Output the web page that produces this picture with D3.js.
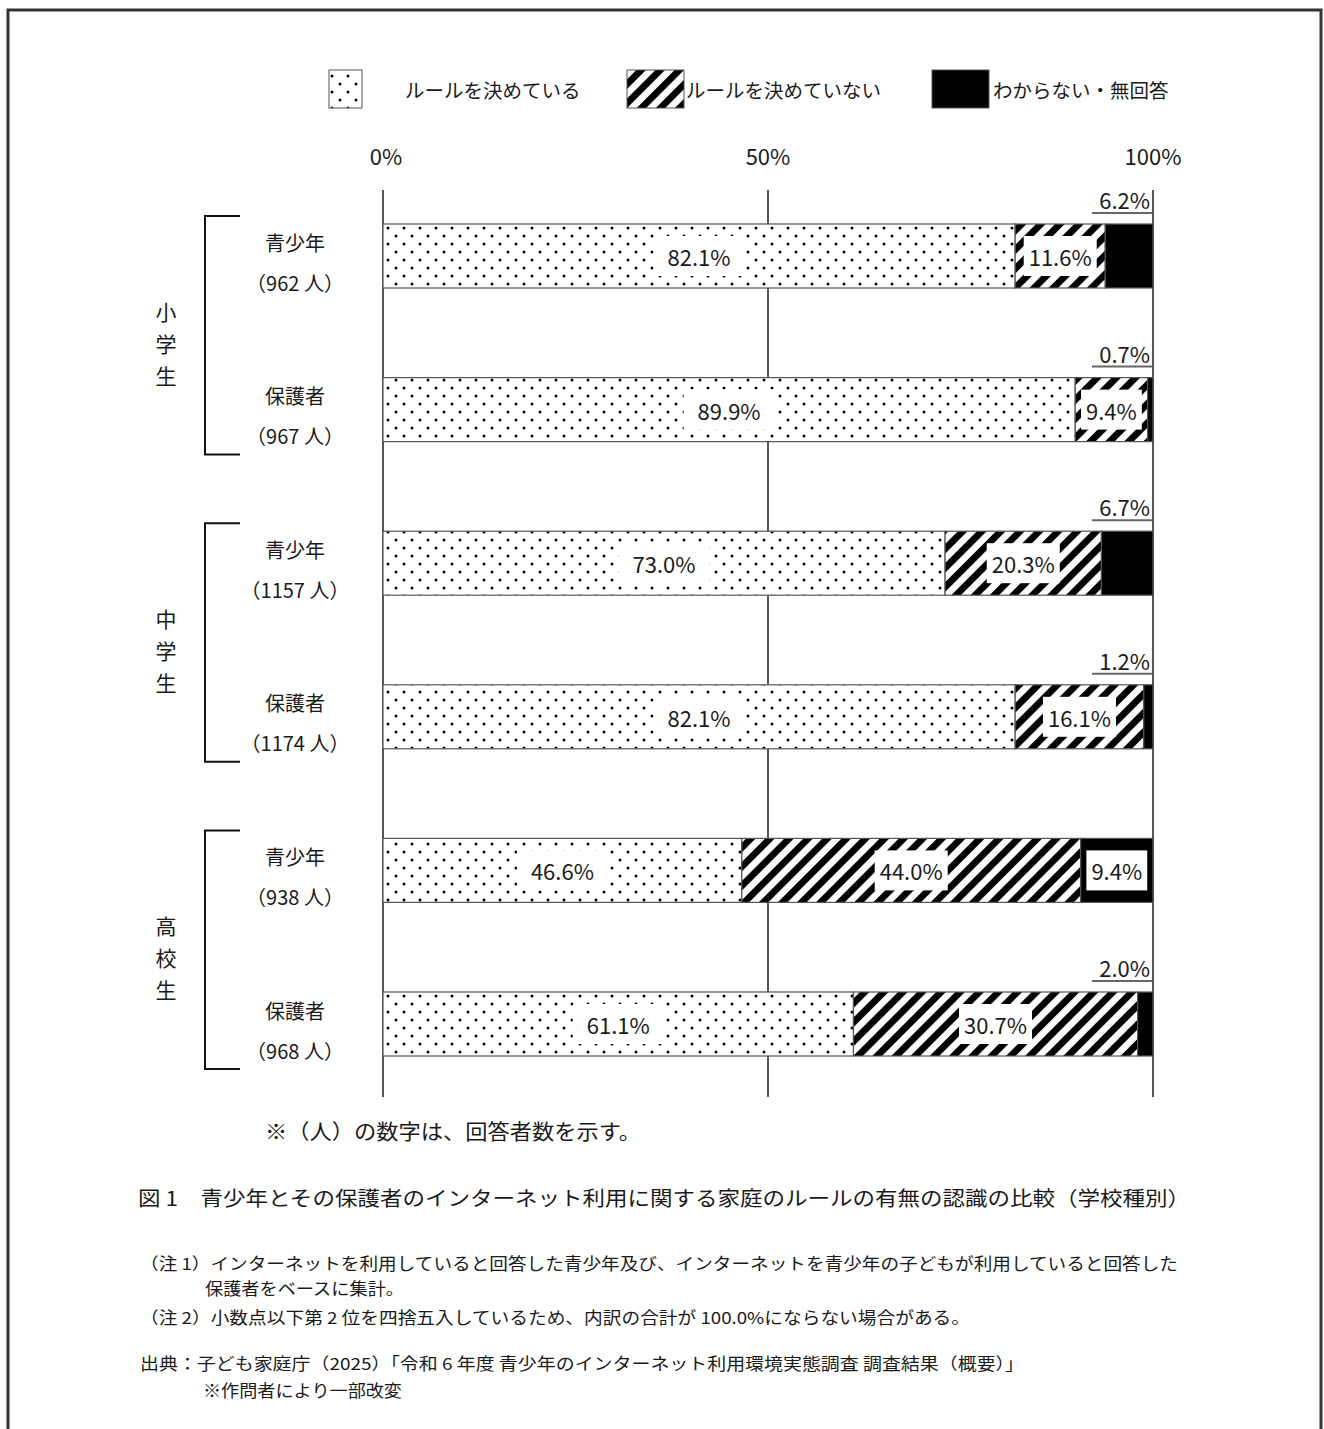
<!DOCTYPE html>
<html><head><meta charset="utf-8">
<script src="https://cdn.jsdelivr.net/npm/d3@7"></script>
<style>
html,body{margin:0;padding:0;background:#fff;}
text{font-family:"Noto Sans CJK JP","Noto Sans",sans-serif;fill:#1a1a1a;}
</style></head>
<body>
<svg id="chart" width="1324" height="1429"></svg>
<script>
// ---- data ----
const groups = ["小学生", "中学生", "高校生"];
const respondents = ["青少年", "保護者"];
const counts = [962, 967, 1157, 1174, 938, 968];
const ruleYes = [82.1, 89.9, 73.0, 82.1, 46.6, 61.1];
const ruleNo = [11.6, 9.4, 20.3, 16.1, 44.0, 30.7];
const unknown = [6.2, 0.7, 6.7, 1.2, 9.4, 2.0];
const tickValues = [0, 50, 100];
const legendLabels = ["ルールを決めている", "ルールを決めていない", "わからない・無回答"];
const footnote = "※（人）の数字は、回答者数を示す。";
const caption = "図 1　青少年とその保護者のインターネット利用に関する家庭のルールの有無の認識の比較（学校種別）";
const notes = [
  "（注 1）インターネットを利用していると回答した青少年及び、インターネットを青少年の子どもが利用していると回答した",
  "保護者をベースに集計。",
  "（注 2）小数点以下第 2 位を四捨五入しているため、内訳の合計が 100.0%にならない場合がある。",
  "出典：子ども家庭庁（2025）「令和 6 年度 青少年のインターネット利用環境実態調査 調査結果（概要）」",
  "※作問者により一部改変"
];

const svg = d3.select("#chart");
const defs = svg.append("defs");

// dot pattern
const dots = defs.append("pattern").attr("id","dots").attr("patternUnits","userSpaceOnUse")
  .attr("width",16).attr("height",16);
dots.append("rect").attr("width",16).attr("height",16).attr("fill","#fff");
dots.append("circle").attr("cx",4).attr("cy",4).attr("r",1.5).attr("fill","#000");
dots.append("circle").attr("cx",12).attr("cy",12).attr("r",1.5).attr("fill","#000");
// hatch pattern
const hatch = defs.append("pattern").attr("id","hatch").attr("patternUnits","userSpaceOnUse")
  .attr("width",13.5).attr("height",13.5).attr("patternTransform","rotate(45)");
hatch.append("rect").attr("width",13.5).attr("height",13.5).attr("fill","#fff");
hatch.append("rect").attr("width",6.8).attr("height",13.5).attr("fill","#000");

// frame
svg.append("path").attr("d","M8,1429 V10 H1321 V1429").attr("fill","none")
  .attr("stroke","#333").attr("stroke-width",3);

// scales
const x = d3.scaleLinear().domain([0,100]).range([383,1153]);
const rows = d3.range(counts.length);
const y = d3.scalePoint().domain(rows).range([256,1024]);
const barH = 64;

// legend
const legendX = [[329,362,405],[627,684,686],[932,989,993]];
const fills = ["url(#dots)","url(#hatch)","#000"];
legendLabels.forEach((l,i)=>{
  const lx = legendX[i];
  svg.append("rect").attr("x",lx[0]).attr("y",70).attr("width",lx[1]-lx[0]).attr("height",38)
    .attr("fill",fills[i]).attr("stroke","#555").attr("stroke-width",1);
  svg.append("text").attr("x",lx[2]).attr("y",89).attr("dominant-baseline","central")
    .attr("font-size",19.5).text(l);
});

// grid + ticks
svg.selectAll(".grid").data(tickValues).join("line")
  .attr("x1",d=>x(d)).attr("x2",d=>x(d)).attr("y1",190).attr("y2",1097)
  .attr("stroke","#555").attr("stroke-width",2);
svg.selectAll(".tick").data(tickValues).join("text")
  .attr("x",d=>x(d)+ (d===0?3:0)).attr("y",155).attr("text-anchor","middle")
  .attr("dominant-baseline","central").attr("font-size",22).text(d=>d+"%");

// bars
rows.forEach(i=>{
  const cy = y(i), top = cy - barH/2;
  const segs = [
    {a:0, b:ruleYes[i], fill:"url(#dots)", v:ruleYes[i]},
    {a:ruleYes[i], b:100-unknown[i], fill:"url(#hatch)", v:ruleNo[i]},
    {a:100-unknown[i], b:100, fill:"#000", v:unknown[i], k:"u"}
  ];
  const g = svg.append("g");
  segs.forEach(s=>{
    g.append("rect").attr("x",x(s.a)).attr("y",top).attr("width",x(s.b)-x(s.a)).attr("height",barH)
      .attr("fill",s.fill).attr("stroke","#555").attr("stroke-width",1.2);
  });
  segs.forEach(s=>{
    const lbl = s.v.toFixed(1)+"%";
    if (s.k==="u" && s.v < 8) {
      g.append("text").attr("x",x(100)-3).attr("y",top-15).attr("text-anchor","end")
        .attr("font-size",22).text(lbl);
      g.append("line").attr("x1",x(100)-61).attr("x2",x(100)).attr("y1",top-11).attr("y2",top-11)
        .attr("stroke","#666").attr("stroke-width",2);
    } else {
      const cx = (x(s.a)+x(s.b))/2;
      const t = g.append("text").attr("x",cx).attr("y",cy).attr("text-anchor","middle")
        .attr("dominant-baseline","central").attr("font-size",22).text(lbl);
      const w = t.node().getComputedTextLength();
      const pad = s.fill==="url(#dots)" ? 14 : 5;
      g.insert("rect", () => t.node()).attr("x",cx-w/2-pad).attr("y",cy-20)
        .attr("width",w+2*pad).attr("height",40).attr("fill","#fff");
    }
  });
  // row labels
  svg.append("text").attr("x",295).attr("y",cy-14).attr("text-anchor","middle")
    .attr("dominant-baseline","central").attr("font-size",20).text(respondents[i%2]);
  svg.append("text").attr("x",295).attr("y",cy+26).attr("text-anchor","middle")
    .attr("dominant-baseline","central").attr("font-size",20).text("（"+counts[i]+" 人）");
});

// group brackets & labels
groups.forEach((gname,gi)=>{
  const c1 = y(gi*2), c2 = y(gi*2+1);
  const t = c1-40, b = c2+45;
  svg.append("path").attr("d",`M240,${t} H205 V${b} H240`).attr("fill","none")
    .attr("stroke","#111").attr("stroke-width",2);
  const mid = (c1+c2)/2;
  Array.from(gname).forEach((ch,k)=>{
    svg.append("text").attr("x",166).attr("y",mid+10+(k-1)*32).attr("text-anchor","middle")
      .attr("dominant-baseline","central").attr("font-size",21).text(ch);
  });
});

// footnote, caption, notes
svg.append("text").attr("x",265).attr("y",1130).attr("dominant-baseline","central")
  .attr("font-size",21).attr("textLength",376).attr("lengthAdjust","spacingAndGlyphs").text(footnote);
svg.append("text").attr("x",138).attr("y",1197).attr("dominant-baseline","central")
  .attr("font-size",20).attr("textLength",1052).attr("lengthAdjust","spacingAndGlyphs").text(caption);
const noteLayout = [[140,1263,1038],[205,1288,199],[140,1317,830],[140,1363,884],[203,1390,199]];
notes.forEach((n,i)=>{
  const [nx,ny,nw] = noteLayout[i];
  svg.append("text").attr("x",nx).attr("y",ny).attr("dominant-baseline","central")
    .attr("font-size",16.5).attr("fill","#333").attr("textLength",nw).attr("lengthAdjust","spacingAndGlyphs").text(n);
});
</script>
</body></html>
